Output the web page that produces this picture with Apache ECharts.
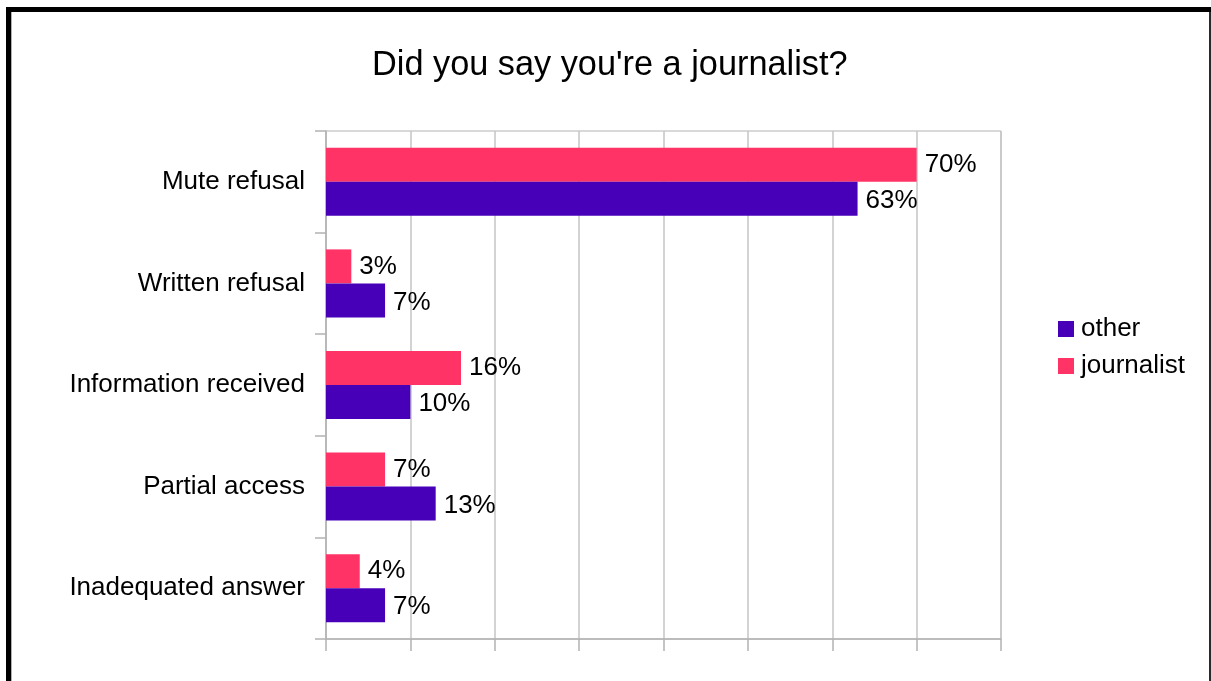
<!DOCTYPE html>
<html>
<head>
<meta charset="utf-8">
<title>Did you say you're a journalist?</title>
<script src="https://cdn.jsdelivr.net/npm/echarts@6/dist/echarts.min.js"></script>
<style>
  html, body { margin: 0; padding: 0; background: #ffffff; }
  #chart { width: 1211px; height: 681px; }
</style>
</head>
<body>
<div id="chart"></div>
<script>
// Answer categories, listed top to bottom
const categories = [
  'Mute refusal',
  'Written refusal',
  'Information received',
  'Partial access',
  'Inadequated answer'
];
// Share of replies (%) when the requester said they were a journalist
const journalistValues = [70, 3, 16, 7, 4];
// Share of replies (%) for other requesters
const otherValues = [63, 7, 10, 13, 7];
// Value axis range and step (%)
const axisMin = 0;
const axisMax = 80;
const axisStep = 10;

const FONT = '"Liberation Sans", Arial, sans-serif';
const GRID_GRAY = '#c4c4c4';
const AXIS_GRAY = '#b3b3b3';

const chart = echarts.init(document.getElementById('chart'), null, { renderer: 'canvas' });

const barLabel = {
  show: true,
  position: 'right',
  distance: 8,
  color: '#000000',
  fontFamily: FONT,
  fontSize: 26,
  formatter: (p) => p.value + '%'
};

chart.setOption({
  backgroundColor: '#ffffff',
  animation: false,
  title: {
    text: "Did you say you're a journalist?",
    left: 372,
    top: 49,
    padding: 0,
    textStyle: { fontFamily: FONT, fontSize: 34.3, fontWeight: 'normal', color: '#000000' }
  },
  legend: {
    orient: 'vertical',
    left: 1058,
    top: 316,
    padding: 0,
    data: ['other', 'journalist'],
    icon: 'rect',
    itemWidth: 16,
    itemHeight: 16,
    itemGap: 11,
    textStyle: { fontFamily: FONT, fontSize: 26, color: '#000000', padding: [0, 0, 0, 2] }
  },
  grid: {
    left: 326,
    right: 210,
    top: 131,
    bottom: 42,
    show: true,
    borderColor: AXIS_GRAY,
    borderWidth: 1,
    containLabel: false
  },
  xAxis: {
    type: 'value',
    min: axisMin,
    max: axisMax,
    interval: axisStep,
    axisLine: { show: true, lineStyle: { color: AXIS_GRAY, width: 1.5 } },
    axisTick: { show: true, length: 12, lineStyle: { color: AXIS_GRAY, width: 1.5 } },
    axisLabel: { show: false },
    splitLine: { show: true, lineStyle: { color: GRID_GRAY, width: 1.5 } }
  },
  yAxis: {
    type: 'category',
    data: categories,
    inverse: true,
    axisLine: { show: true, lineStyle: { color: AXIS_GRAY, width: 1.5 } },
    axisTick: { show: true, length: 11, lineStyle: { color: AXIS_GRAY, width: 1.5 } },
    axisLabel: { margin: 21, color: '#000000', fontFamily: FONT, fontSize: 26 },
    splitLine: { show: false }
  },
  series: [
    {
      name: 'journalist',
      type: 'bar',
      data: journalistValues,
      barWidth: 34,
      barGap: '0%',
      itemStyle: { color: '#ff3366' },
      label: barLabel
    },
    {
      name: 'other',
      type: 'bar',
      data: otherValues,
      barWidth: 34,
      barGap: '0%',
      itemStyle: { color: '#4700b8' },
      label: Object.assign({}, barLabel, { offset: [0, 2] })
    }
  ],
  graphic: [
    // frame: heavy left and top edges, thin right edge
    { type: 'rect', silent: true, shape: { x: 6, y: 7, width: 5, height: 674 }, style: { fill: '#000000' } },
    { type: 'rect', silent: true, shape: { x: 11, y: 12, width: 1, height: 669 }, style: { fill: '#b0b0b0' } },
    { type: 'rect', silent: true, shape: { x: 6, y: 7, width: 1205, height: 5 }, style: { fill: '#000000' } },
    { type: 'rect', silent: true, shape: { x: 1209, y: 12, width: 2, height: 669 }, style: { fill: '#2a2a2a' } }
  ]
});
</script>
</body>
</html>
